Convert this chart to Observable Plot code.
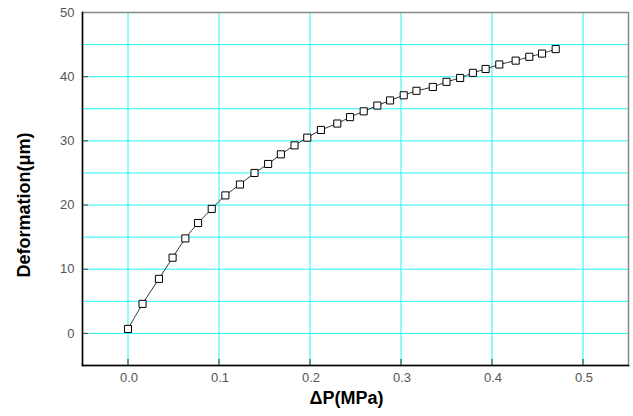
<!DOCTYPE html>
<html>
<head>
<meta charset="utf-8">
<script src="https://cdn.jsdelivr.net/npm/d3@7"></script>
<script src="https://cdn.jsdelivr.net/npm/@observablehq/plot@0.6"></script>
<style>
  html, body { margin: 0; padding: 0; background: #fff; }
  svg { display: block; }
</style>
</head>
<body>
<div id="chart"></div>
<script>
const pressure = [0.000, 0.016, 0.034, 0.049, 0.063, 0.077, 0.092, 0.107, 0.123, 0.139, 0.154, 0.168, 0.183, 0.197, 0.212, 0.230, 0.244, 0.259, 0.274, 0.288, 0.303, 0.317, 0.335, 0.350, 0.365, 0.379, 0.393, 0.408, 0.426, 0.441, 0.455, 0.470];
const deformation = [0.7, 4.6, 8.5, 11.8, 14.8, 17.2, 19.4, 21.5, 23.2, 25.0, 26.4, 27.9, 29.3, 30.5, 31.7, 32.7, 33.7, 34.6, 35.5, 36.3, 37.1, 37.8, 38.4, 39.2, 39.8, 40.6, 41.2, 41.9, 42.5, 43.1, 43.6, 44.3];
const xTicks = [0.0, 0.1, 0.2, 0.3, 0.4, 0.5];
const yTicks = [0, 10, 20, 30, 40, 50];
const yGrid = [0, 5, 10, 15, 20, 25, 30, 35, 40, 45];
const xLabel = "ΔP(MPa)";
const yLabel = "Deformation(μm)";

const data = pressure.map((p, i) => ({p, d: deformation[i]}));

const W = 633, H = 416;
const mL = 82, mR = 5, mT = 12, mB = 51;
const fw = W - mL - mR, fh = H - mT - mB;
const grid = "#22f4f4";
const font = "Liberation Sans, Arial, sans-serif";

const chart = Plot.plot({
  width: W,
  height: H,
  marginLeft: mL,
  marginRight: mR,
  marginTop: mT,
  marginBottom: mB,
  style: {fontFamily: font, background: "#fff"},
  x: {domain: [-0.05, 0.55]},
  y: {domain: [-5, 50]},
  marks: [
    Plot.ruleX(xTicks, {stroke: grid, strokeWidth: 1}),
    Plot.ruleY(yGrid, {stroke: grid, strokeWidth: 1}),
    Plot.ruleX(xTicks, {stroke: "#333", strokeWidth: 1, insetTop: fh - 6}),
    Plot.ruleY(yTicks, {stroke: "#444", strokeWidth: 1, insetRight: fw - 6}),
    Plot.frame({stroke: "#888", strokeWidth: 1.5}),
    Plot.frame({anchor: "left", stroke: "#000", strokeWidth: 1.5}),
    Plot.frame({anchor: "bottom", stroke: "#000", strokeWidth: 1.5}),
    Plot.axisX({ticks: xTicks, tickSize: 0, tickPadding: 7, tickFormat: d3.format(".1f"), label: null, fontSize: 13, fill: "#555", letterSpacing: "1.3px", dx: 1}),
    Plot.axisY({ticks: yTicks, tickSize: 0, tickPadding: 8, label: null, fontSize: 13, fill: "#555", letterSpacing: "1.3px"}),
    Plot.line(data, {x: "p", y: "d", stroke: "#333", strokeWidth: 1, curve: "catmull-rom"}),
    Plot.dot(data, {x: "p", y: "d", symbol: "square", r: 4, stroke: "#000", strokeWidth: 1, fill: "#fff"}),
    Plot.text([yLabel], {frameAnchor: "left", textAnchor: "middle", dx: -58.5, dy: 16, rotate: -90, fontSize: 18, fontWeight: "bold", fill: "#000", fontFamily: font, letterSpacing: "1px"}),
    Plot.text([xLabel], {frameAnchor: "bottom", dx: -9, dy: 38, fontSize: 18, fontWeight: "bold", fill: "#000", fontFamily: font, letterSpacing: "1px"})
  ]
});
document.getElementById("chart").append(chart);
</script>
</body>
</html>
